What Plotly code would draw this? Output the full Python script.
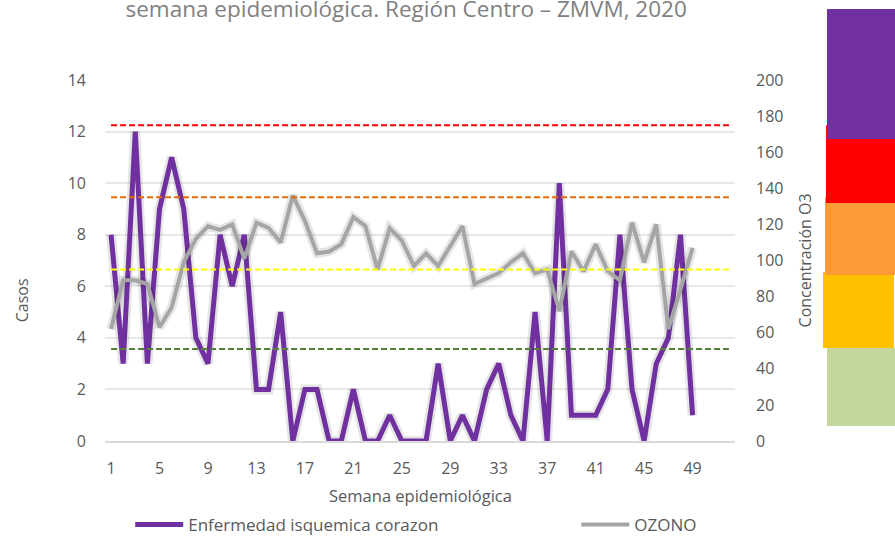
import plotly.graph_objects as go

# semanas epidemiologicas con dato (1-49), eje llega a la 52
semanas = list(range(1, 50))
semanas_eje = list(range(1, 53))

casos = [8, 3, 12, 3, 9, 11, 9, 4, 3, 8, 6, 8, 2, 2, 5, 0, 2, 2, 0, 0,
         2, 0, 0, 1, 0, 0, 0, 3, 0, 1, 0, 2, 3, 1, 0, 5, 0, 10, 1, 1,
         1, 2, 8, 2, 0, 3, 4, 8, 1]

ozono = [62, 89, 89, 87, 63, 74, 99, 112, 119, 117, 120, 101, 121, 118, 110, 136, 122, 104, 105, 109,
         124, 119, 95, 118, 111, 97, 104, 97, 108, 119, 87, 90, 93, 99, 104, 93, 95, 72, 105, 94,
         109, 94, 89, 121, 99, 120, 62, 84, 107]

# limites del indice de calidad del aire para O3
limites = [51, 95, 135, 175]
colores_limite = ["#548235", "#FFFF00", "#E46C0A", "#FF0000"]

x_ticks = list(range(1, 50, 4))

font_main = "Open Sans, Lato, sans-serif"
gris_txt = "#595959"

fig = go.Figure()

# sombra suave de las series
fig.add_trace(go.Scatter(x=semanas, y=casos, mode="lines", yaxis="y",
                         line=dict(color="rgba(0,0,0,0.10)", width=10),
                         showlegend=False, hoverinfo="skip"))
fig.add_trace(go.Scatter(x=semanas, y=casos, mode="lines", yaxis="y",
                         name="Enfermedad isquemica corazon", legend="legend",
                         line=dict(color="#7030A0", width=5)))

fig.add_trace(go.Scatter(x=semanas, y=ozono, mode="lines", yaxis="y2",
                         line=dict(color="rgba(0,0,0,0.10)", width=9),
                         showlegend=False, hoverinfo="skip"))
fig.add_trace(go.Scatter(x=semanas, y=ozono, mode="lines", yaxis="y2",
                         name="OZONO", legend="legend2",
                         line=dict(color="#A5A5A5", width=4)))

for val, col in zip(limites, colores_limite):
    fig.add_trace(go.Scatter(x=semanas_eje, y=[val] * len(semanas_eje), mode="lines",
                             yaxis="y2", line=dict(color=col, width=2, dash="6px,3px"),
                             showlegend=False, hoverinfo="skip"))

# bloques de color del indice (a la derecha, fuera del area de trazado)
bandas = [
    (0.2576, 0.468, "#FFC000", 1.1397, 1.2524),
    (0.4598, 0.676, "#FD9A38", 1.1429, 1.27),
    (0.659, 0.875, "#FF0000", 1.1444, 1.27),
    (0.0416, 0.2576, "#C3D69B", 1.146, 1.27),
    (0.8366, 1.1967, "#7030A0", 1.146, 1.27),
]
for y0, y1, col, x0, x1 in bandas:
    fig.add_shape(type="rect", xref="paper", yref="paper", x0=x0, x1=x1, y0=y0, y1=y1,
                  fillcolor=col, line=dict(width=0), layer="above")

legend_common = dict(orientation="h", xanchor="left", y=-0.2327, yanchor="middle",
                     font=dict(size=17, color=gris_txt), bgcolor="rgba(0,0,0,0)",
                     itemwidth=48)

fig.update_layout(
    width=895, height=542,
    margin=dict(l=105, r=160, t=80, b=101, autoexpand=False),
    paper_bgcolor="white", plot_bgcolor="white",
    font=dict(family=font_main, size=16, color=gris_txt),
    title=dict(text="semana epidemiológica. Región Centro – ZMVM, 2020",
               x=0.478, xref="paper", xanchor="center",
               y=1 - 9 / 542, yref="container", yanchor="middle",
               font=dict(size=22.5, color="#7F7F7F")),
    xaxis=dict(range=[0.5, 52.5], tickvals=x_ticks, showgrid=False, zeroline=False,
               showline=True, linecolor="#D9D9D9", linewidth=1.5, ticks="",
               ticklabelstandoff=12, tickfont=dict(size=16, color=gris_txt)),
    yaxis=dict(range=[0, 14], dtick=2, showgrid=True, gridcolor="#E8E8E8", gridwidth=1.5,
               zeroline=False, ticks="", ticklabelstandoff=18,
               tickfont=dict(size=16, color=gris_txt)),
    yaxis2=dict(range=[0, 200], dtick=20, overlaying="y", side="right", showgrid=False,
                zeroline=False, ticks="", ticklabelstandoff=20,
                tickfont=dict(size=16, color=gris_txt)),
    legend=dict(x=0.04, **legend_common),
    legend2=dict(x=0.748, **legend_common),
    showlegend=True,
)

fig.add_annotation(text="Casos", xref="paper", yref="paper", x=-0.1317, y=0.39,
                   xanchor="center", yanchor="middle",
                   textangle=-90, showarrow=False, font=dict(size=16, color=gris_txt))
fig.add_annotation(text="Concentración O3", xref="paper", yref="paper", x=1.111, y=0.5,
                   xanchor="center", yanchor="middle",
                   textangle=-90, showarrow=False, font=dict(size=16, color=gris_txt))
fig.add_annotation(text="Semana epidemiológica", xref="paper", yref="paper", x=0.5, y=-0.152,
                   xanchor="center", yanchor="middle",
                   showarrow=False, font=dict(size=16.5, color=gris_txt))

# quitar el margen del body para que la figura empiece en (0, 0)
fig.write_html("out.html", config={"displayModeBar": False},
               post_script="document.body.style.margin='0px';")
